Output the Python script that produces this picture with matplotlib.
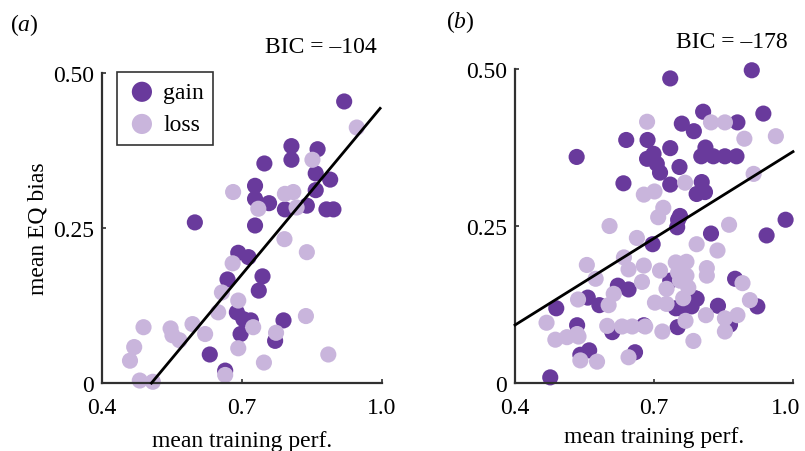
import matplotlib.pyplot as plt
import matplotlib.transforms as mtransforms
import numpy as np

plt.rcParams['font.family'] = ['Liberation Serif', 'DejaVu Serif']
plt.rcParams['mathtext.fontset'] = 'custom'
plt.rcParams['mathtext.rm'] = 'Liberation Serif'
plt.rcParams['mathtext.it'] = 'Liberation Serif:italic'

# panel (a) - gain / loss
a_gain_x = [0.919, 0.806, 0.862, 0.806, 0.748, 0.858, 0.889, 0.728, 0.858, 0.728,
            0.758, 0.792, 0.839, 0.881, 0.896, 0.599, 0.728, 0.692, 0.714, 0.744,
            0.669, 0.736, 0.689, 0.703, 0.719, 0.789, 0.697, 0.771, 0.631, 0.664]
a_gain_y = [0.454, 0.382, 0.377, 0.360, 0.354, 0.338, 0.328, 0.318, 0.311, 0.297,
            0.290, 0.280, 0.286, 0.280, 0.280, 0.259, 0.254, 0.210, 0.203, 0.172,
            0.167, 0.149, 0.114, 0.103, 0.101, 0.101, 0.079, 0.068, 0.046, 0.020]
a_loss_x = [0.946, 0.851, 0.681, 0.792, 0.810, 0.735, 0.817, 0.791, 0.839, 0.680,
            0.657, 0.692, 0.649, 0.837, 0.724, 0.773, 0.489, 0.547, 0.551, 0.566,
            0.594, 0.621, 0.469, 0.460, 0.692, 0.664, 0.747, 0.885, 0.481, 0.509]
a_loss_y = [0.412, 0.360, 0.308, 0.305, 0.308, 0.281, 0.283, 0.232, 0.211, 0.193,
            0.146, 0.133, 0.114, 0.108, 0.090, 0.081, 0.090, 0.088, 0.077, 0.069,
            0.095, 0.079, 0.058, 0.036, 0.056, 0.013, 0.033, 0.046, 0.004, 0.002]

# panel (b)
b_gain_x = [0.476, 0.489, 0.534, 0.541, 0.560, 0.557, 0.582, 0.610, 0.622, 0.645,
            0.659, 0.678, 0.697, 0.750, 0.752, 0.823, 0.943, 0.984, 0.735, 0.789,
            0.763, 0.747, 0.781, 0.751, 0.838, 0.864, 0.875, 0.923, 0.533, 0.634,
            0.640, 0.686, 0.699, 0.685, 0.706, 0.713, 0.735, 0.755, 0.735, 0.735,
            0.911, 0.806, 0.936, 0.760, 0.786, 0.880, 0.811, 0.802, 0.828, 0.853,
            0.878, 0.803, 0.792, 0.810, 0.756, 0.792, 0.760]
b_gain_y = [0.009, 0.119, 0.092, 0.045, 0.052, 0.136, 0.124, 0.081, 0.155, 0.149,
            0.049, 0.092, 0.221, 0.248, 0.260, 0.238, 0.235, 0.260, 0.163, 0.135,
            0.122, 0.119, 0.122, 0.089, 0.123, 0.093, 0.166, 0.122, 0.360, 0.318,
            0.387, 0.387, 0.365, 0.357, 0.349, 0.335, 0.374, 0.344, 0.316, 0.485,
            0.498, 0.432, 0.429, 0.413, 0.401, 0.415, 0.375, 0.361, 0.361, 0.361,
            0.361, 0.320, 0.301, 0.304, 0.266, 0.134, 0.118]
b_loss_x = [0.468, 0.487, 0.512, 0.537, 0.534, 0.541, 0.577, 0.536, 0.555, 0.574,
            0.599, 0.602, 0.613, 0.631, 0.653, 0.681, 0.645, 0.604, 0.663, 0.635,
            0.645, 0.678, 0.674, 0.713, 0.747, 0.770, 0.752, 0.770, 0.756, 0.774,
            0.727, 0.763, 0.702, 0.727, 0.718, 0.768, 0.785, 0.812, 0.814, 0.814,
            0.853, 0.880, 0.853, 0.891, 0.907, 0.792, 0.837, 0.862, 0.720, 0.709,
            0.685, 0.823, 0.853, 0.895, 0.963, 0.767, 0.915, 0.678, 0.701]
b_loss_y = [0.096, 0.069, 0.073, 0.074, 0.078, 0.036, 0.034, 0.133, 0.188, 0.166,
            0.091, 0.124, 0.142, 0.090, 0.090, 0.090, 0.041, 0.250, 0.231, 0.200,
            0.181, 0.187, 0.161, 0.179, 0.192, 0.193, 0.176, 0.171, 0.163, 0.152,
            0.150, 0.135, 0.128, 0.126, 0.082, 0.099, 0.067, 0.108, 0.183, 0.171,
            0.103, 0.108, 0.082, 0.159, 0.132, 0.221, 0.211, 0.252, 0.279, 0.264,
            0.416, 0.415, 0.415, 0.389, 0.393, 0.319, 0.333, 0.300, 0.305]

# fitted lines (slope, intercept, x range)
fit_a = (0.904, -0.4575, 0.506, 0.996)
fit_b = (0.46, -0.0916, 0.40, 1.00)
bic = ['BIC = \u2013104', 'BIC = \u2013178']

c_gain = '#693a9c'
c_loss = '#c9b5dc'
spine_c = '#303030'
fs = 17

fig = plt.figure(figsize=(8.05, 4.52), dpi=100)
ax1 = fig.add_axes([0.1267, 0.1504, 0.3478, 0.6860])
ax2 = fig.add_axes([0.6398, 0.1504, 0.3453, 0.6947])

panels = [(ax1, a_gain_x, a_gain_y, a_loss_x, a_loss_y, fit_a),
          (ax2, b_gain_x, b_gain_y, b_loss_x, b_loss_y, fit_b)]

for i, (ax, gx, gy, lx, ly, fit) in enumerate(panels):
    ax.scatter(gx, gy, s=135, color=c_gain, edgecolors='none', clip_on=False, zorder=2, label='gain')
    ax.scatter(lx, ly, s=135, color=c_loss, edgecolors='none', clip_on=False, zorder=2, label='loss')
    k, b, x0, x1 = fit
    xx = np.array([x0, x1])
    ax.plot(xx, k * xx + b, color='black', lw=2, zorder=3, clip_on=False)
    ax.set_xlim(0.4, 1.0)
    ax.set_ylim(0, 0.5)
    ax.set_xticks([0.4, 0.7, 1.0])
    ax.set_xticklabels(['0.4', '0.7', '1.0'])
    ax.set_yticks([0, 0.25, 0.5])
    ax.set_yticklabels(['0', '0.25', '0.50'])
    for s in ['top', 'right']:
        ax.spines[s].set_visible(False)
    for s in ['left', 'bottom']:
        ax.spines[s].set_color(spine_c)
        ax.spines[s].set_linewidth(1.6)
    ax.tick_params(direction='in', length=3, width=1.2, color=spine_c, labelsize=fs)
    ax.tick_params(axis='x', pad=10)
    ax.tick_params(axis='y', pad=6)

# nudge the last tick label of panel b a little left so it stays inside
last = ax2.get_xticklabels()[-1]
last.set_transform(last.get_transform() +
                   mtransforms.ScaledTranslation(-0.07, 0, fig.dpi_scale_trans))

ax1.set_xlabel('mean training perf.', fontsize=fs, labelpad=9)
ax2.set_xlabel('mean training perf.', fontsize=fs, labelpad=6)
ax1.set_ylabel('mean EQ bias', fontsize=fs, labelpad=3)

leg = ax1.legend(loc='upper left', bbox_to_anchor=(0.054, 1.003), borderaxespad=0,
                 fontsize=fs, frameon=True, fancybox=False, edgecolor='black',
                 handletextpad=0.25, borderpad=0.4, labelspacing=0.45,
                 handlelength=1.3, scatterpoints=1, markerscale=1.25)
leg.get_frame().set_linewidth(1.2)

fig.text(0.012, 0.945, r'($\mathit{a}$)', fontsize=fs, va='center')
fig.text(0.554, 0.951, r'($\mathit{b}$)', fontsize=fs, va='center')
fig.text(0.399, 0.894, bic[0], fontsize=fs, ha='center', va='center')
fig.text(0.909, 0.907, bic[1], fontsize=fs, ha='center', va='center')

fig.savefig('out.png', dpi=100)
